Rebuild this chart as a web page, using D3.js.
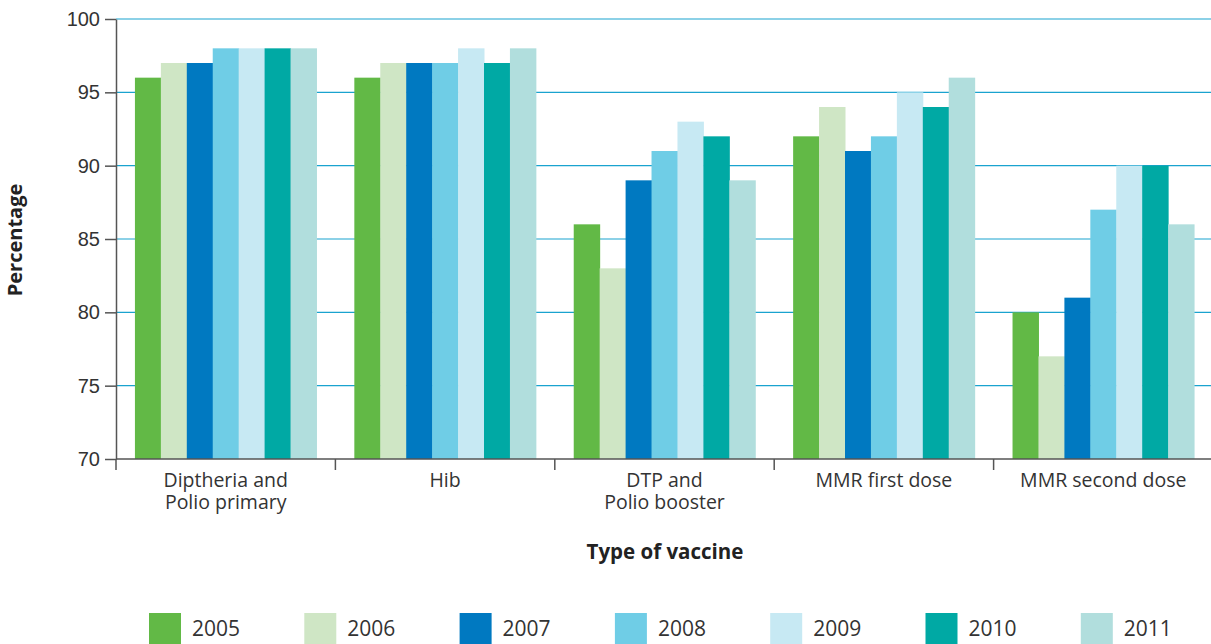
<!DOCTYPE html>
<html>
<head>
<meta charset="utf-8">
<script src="https://cdn.jsdelivr.net/npm/d3@7"></script>
<style>
  body { margin: 0; background: #fff; }
  svg { display: block; font-family: "Open Sans", "Noto Sans", sans-serif; }
  .grid line { stroke: #1aa3cf; stroke-width: 1.2; }
  .axis text { fill: #333; font-size: 20px; }
  .axis path, .axis line { stroke: #555; stroke-width: 1.5; }
</style>
</head>
<body>
<div id="chart"></div>
<script>
var categories = [["Diptheria and", "Polio primary"], ["Hib"], ["DTP and", "Polio booster"], ["MMR first dose"], ["MMR second dose"]];
var years = ["2005", "2006", "2007", "2008", "2009", "2010", "2011"];
var colors = ["#62b946", "#cfe6c5", "#0079c1", "#6fcde6", "#c7e9f3", "#00a9a4", "#b1dedd"];

// one array per year, values in category order
var v2005 = [96, 96, 86, 92, 80];
var v2006 = [97, 97, 83, 94, 77];
var v2007 = [97, 97, 89, 91, 81];
var v2008 = [98, 97, 91, 92, 87];
var v2009 = [98, 98, 93, 95, 90];
var v2010 = [98, 97, 92, 94, 90];
var v2011 = [98, 98, 89, 96, 86];
var series = [v2005, v2006, v2007, v2008, v2009, v2010, v2011];

var yTicks = [70, 75, 80, 85, 90, 95, 100];

var width = 1211, height = 644;
var plotLeft = 116, plotRight = 1213, plotTop = 19, plotBottom = 459;

var svg = d3.select("#chart").append("svg")
    .attr("width", width)
    .attr("height", height);

var catIdx = d3.range(categories.length);

var x0 = d3.scaleBand().domain(catIdx).range([plotLeft, plotRight]).padding(0);
var x1 = d3.scaleBand().domain(years).range([0, x0.bandwidth()]).paddingInner(0).paddingOuter(0.73);
var y = d3.scaleLinear().domain([70, 100]).range([plotBottom, plotTop]);

// gridlines
svg.append("g").attr("class", "grid")
  .selectAll("line")
  .data(yTicks.slice(1))
  .enter().append("line")
  .attr("x1", plotLeft).attr("x2", width)
  .attr("y1", function(d) { return y(d); })
  .attr("y2", function(d) { return y(d); });

// bars
var groups = svg.append("g").selectAll("g")
  .data(catIdx)
  .enter().append("g")
  .attr("transform", function(i) { return "translate(" + x0(i) + ",0)"; });

groups.selectAll("rect")
  .data(function(i) { return years.map(function(yr, k) { return { year: yr, k: k, value: series[k][i] }; }); })
  .enter().append("rect")
  .attr("x", function(d) { return x1(d.year); })
  .attr("width", x1.bandwidth() + 0.5)
  .attr("y", function(d) { return y(d.value); })
  .attr("height", function(d) { return plotBottom - y(d.value); })
  .attr("fill", function(d) { return colors[d.k]; });

// y axis
var yAxis = svg.append("g").attr("class", "axis")
  .attr("transform", "translate(" + plotLeft + ",0)")
  .call(d3.axisLeft(y).tickValues(yTicks).tickSize(11).tickPadding(5).tickSizeOuter(0));

// x axis: baseline plus boundary ticks
var xa = svg.append("g").attr("class", "axis");
xa.append("line")
  .attr("x1", plotLeft).attr("x2", width)
  .attr("y1", plotBottom).attr("y2", plotBottom);
xa.selectAll(".xt")
  .data(catIdx)
  .enter().append("line")
  .attr("class", "xt")
  .attr("x1", function(i) { return x0(i); })
  .attr("x2", function(i) { return x0(i); })
  .attr("y1", plotBottom).attr("y2", plotBottom + 11);

var labels = xa.selectAll(".xl")
  .data(catIdx)
  .enter().append("text")
  .attr("class", "xl")
  .attr("text-anchor", "middle")
  .style("font-size", "19.5px")
  .attr("x", function(i) { return x0(i) + x0.bandwidth() / 2; })
  .attr("y", 487);
labels.selectAll("tspan")
  .data(function(i) { return categories[i]; })
  .enter().append("tspan")
  .attr("x", function() { return this.parentNode.getAttribute("x"); })
  .attr("dy", function(d, j) { return j === 0 ? 0 : 22; })
  .text(function(d) { return d; });

// axis titles
svg.append("text")
  .attr("transform", "translate(22,240) rotate(-90)")
  .attr("text-anchor", "middle")
  .style("font-size", "20px").style("font-weight", "bold").style("fill", "#222")
  .text("Percentage");

svg.append("text")
  .attr("x", 665).attr("y", 559)
  .attr("text-anchor", "middle")
  .style("font-size", "20.5px").style("font-weight", "bold").style("fill", "#222")
  .text("Type of vaccine");

// legend
var lg = svg.append("g").selectAll("g")
  .data(years)
  .enter().append("g")
  .attr("transform", function(d, k) { return "translate(" + (149 + k * 155.3) + ",613)"; });
lg.append("rect")
  .attr("width", 32).attr("height", 32)
  .attr("fill", function(d, k) { return colors[k]; });
lg.append("text")
  .attr("x", 43).attr("y", 23)
  .style("font-size", "21px").style("fill", "#333")
  .text(function(d) { return d; });
</script>
</body>
</html>
